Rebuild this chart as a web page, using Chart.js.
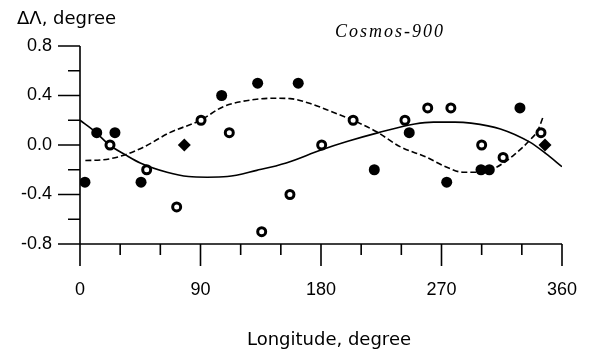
<!DOCTYPE html>
<html>
<head>
<meta charset="utf-8">
<script src="https://cdn.jsdelivr.net/npm/chart.js@4"></script>
<style>
html,body{margin:0;padding:0;background:#fff;}
#c{display:block;}
</style>
</head>
<body>
<canvas id="c" width="591" height="352"></canvas>
<script>
// ---- data (longitude in degrees, ΔΛ in degrees) ----
const filledLon = [3.7, 12.5, 26.1, 45.6, 105.8, 132.7, 163, 219.8, 245.9, 273.9, 299.5, 305.7, 328.6];
const filledVal = [-0.3, 0.1, 0.1, -0.3, 0.4, 0.5, 0.5, -0.2, 0.1, -0.3, -0.2, -0.2, 0.3];
const diamondLon = [77.9, 347.3];
const diamondVal = [0.0, 0.0];
const openLon = [22.4, 49.8, 72.2, 90.4, 111.5, 135.7, 156.8, 180.5, 204, 242.7, 259.7, 277, 300, 316, 344.3];
const openVal = [0.0, -0.2, -0.5, 0.2, 0.1, -0.7, -0.4, 0.0, 0.2, 0.2, 0.3, 0.3, 0.0, -0.1, 0.1];
const solidLon = [0, 11, 22, 34, 45, 65, 81, 95, 110, 132, 154, 180, 200, 223, 250, 264, 280, 292, 314, 336, 348, 360];
const solidVal = [0.2, 0.11, 0.0, -0.08, -0.145, -0.22, -0.255, -0.26, -0.255, -0.205, -0.145, -0.04, 0.03, 0.1, 0.17, 0.185, 0.185, 0.177, 0.13, 0.023, -0.07, -0.175];
const dashLon = [4, 17, 32, 47, 67, 90, 107, 132, 145, 157, 172, 189, 204, 221.5, 239, 259, 274, 286, 299, 311, 323.6, 336, 342, 346];
const dashVal = [-0.125, -0.12, -0.085, -0.02, 0.1, 0.2, 0.31, 0.37, 0.378, 0.375, 0.335, 0.265, 0.2, 0.107, -0.013, -0.1, -0.18, -0.22, -0.22, -0.18, -0.085, 0.04, 0.12, 0.23];
const xMajorTicks = [0, 90, 180, 270, 360];
const xMinorTicks = [30, 60, 120, 150, 210, 240, 300, 330];
const yMajorTicks = [-0.8, -0.4, 0.0, 0.4, 0.8];
const yMinorTicks = [-0.6, -0.2, 0.2, 0.6];
const yTitle = 'ΔΛ, degree';
const xTitle = 'Longitude, degree';
const note = 'Cosmos-900';

const pts = (xs, ys) => xs.map((x, i) => ({x: x, y: ys[i]}));

const axesPlugin = {
  id: 'axesPlugin',
  afterDraw(chart) {
    const ctx = chart.ctx, ax = chart.scales.x, ay = chart.scales.y;
    const x0 = ax.getPixelForValue(xMajorTicks[0]);
    const x1 = ax.getPixelForValue(xMajorTicks[xMajorTicks.length - 1]);
    const yB = ay.getPixelForValue(yMajorTicks[0]);
    const yT = ay.getPixelForValue(yMajorTicks[yMajorTicks.length - 1]);
    ctx.save();
    ctx.strokeStyle = '#000';
    ctx.lineWidth = 1.6;
    ctx.beginPath();
    ctx.moveTo(x0, yT); ctx.lineTo(x0, yB + 22);
    ctx.moveTo(x0 - 22, yB); ctx.lineTo(x1, yB);
    xMajorTicks.forEach(v => { const p = ax.getPixelForValue(v); ctx.moveTo(p, yB); ctx.lineTo(p, yB + 22); });
    xMinorTicks.forEach(v => { const p = ax.getPixelForValue(v); ctx.moveTo(p, yB); ctx.lineTo(p, yB + 11); });
    yMajorTicks.forEach(v => { const p = ay.getPixelForValue(v); ctx.moveTo(x0 - 22, p); ctx.lineTo(x0, p); });
    yMinorTicks.forEach(v => { const p = ay.getPixelForValue(v); ctx.moveTo(x0 - 12, p); ctx.lineTo(x0, p); });
    ctx.stroke();
    ctx.fillStyle = '#000';
    ctx.textBaseline = 'alphabetic';
    ctx.font = '18px "DejaVu Sans"';
    ctx.textAlign = 'left';
    ctx.fillText(yTitle, 17, 24);
    ctx.textAlign = 'center';
    ctx.fillText(xTitle, 329, 345);
    ctx.font = 'italic 18px "Liberation Serif"';
    ctx.textAlign = 'left';
    try { ctx.letterSpacing = '2px'; } catch (e) {}
    ctx.fillText(note, 335, 37);
    ctx.restore();
  }
};

new Chart(document.getElementById('c'), {
  type: 'scatter',
  data: {
    datasets: [
      {data: pts(filledLon, filledVal), pointStyle: 'circle', pointRadius: 5.5, pointBackgroundColor: '#000', pointBorderColor: '#000', pointBorderWidth: 0, showLine: false},
      {data: pts(diamondLon, diamondVal), pointStyle: 'rectRot', pointRadius: 6.5, pointBackgroundColor: '#000', pointBorderColor: '#000', pointBorderWidth: 0, showLine: false},
      {data: pts(openLon, openVal), pointStyle: 'circle', pointRadius: 4, pointBackgroundColor: '#fff', pointBorderColor: '#000', pointBorderWidth: 3, showLine: false},
      {data: pts(solidLon, solidVal), showLine: true, borderColor: '#000', borderWidth: 1.6, pointRadius: 0, cubicInterpolationMode: 'monotone', fill: false},
      {data: pts(dashLon, dashVal), showLine: true, borderColor: '#000', borderWidth: 1.6, borderDash: [6, 3], pointRadius: 0, cubicInterpolationMode: 'monotone', fill: false}
    ]
  },
  options: {
    responsive: false,
    devicePixelRatio: 1,
    animation: false,
    events: [],
    layout: {padding: {top: 46, right: 29, bottom: 0, left: 0}},
    plugins: {legend: {display: false}, tooltip: {enabled: false}, title: {display: false}},
    scales: {
      x: {
        type: 'linear', min: 0, max: 360,
        afterFit: s => { s.height = 108; s.paddingLeft = 0; s.paddingRight = 0; },
        afterBuildTicks: s => { s.ticks = xMajorTicks.map(v => ({value: v})); },
        grid: {display: false, drawTicks: false, tickLength: 0},
        border: {display: false},
        ticks: {autoSkip: false, maxRotation: 0, padding: 35, color: '#000', font: {family: '"Liberation Sans", Arial', size: 18}, callback: v => String(v)}
      },
      y: {
        type: 'linear', min: -0.8, max: 0.8,
        afterFit: s => { s.width = 80; s.paddingTop = 0; s.paddingBottom = 0; },
        afterBuildTicks: s => { s.ticks = yMajorTicks.map(v => ({value: v})); },
        grid: {display: false, drawTicks: false, tickLength: 0},
        border: {display: false},
        ticks: {padding: 28, color: '#000', font: {family: '"Liberation Sans", Arial', size: 18}, callback: v => (Math.abs(v) < 1e-9 ? '0.0' : Number(v).toFixed(1))}
      }
    }
  },
  plugins: [axesPlugin]
});
</script>
</body>
</html>
